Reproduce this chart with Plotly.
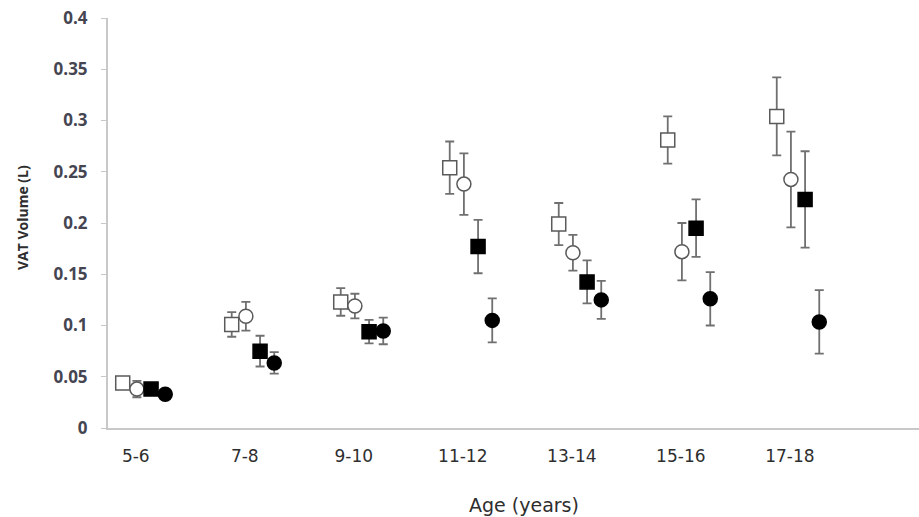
import plotly.graph_objects as go

age_groups = ["5-6", "7-8", "9-10", "11-12", "13-14", "15-16", "17-18"]

# series values (L) and error (±)
open_square = [0.044, 0.101, 0.123, 0.254, 0.199, 0.281, 0.304]
open_square_err = [0.004, 0.012, 0.0135, 0.0255, 0.0205, 0.023, 0.038]
open_circle = [0.038, 0.109, 0.119, 0.238, 0.171, 0.172, 0.2425]
open_circle_err = [0.008, 0.014, 0.012, 0.030, 0.0175, 0.028, 0.0467]
filled_square = [0.038, 0.075, 0.094, 0.177, 0.1425, 0.195, 0.223]
filled_square_err = [0.004, 0.015, 0.0115, 0.026, 0.021, 0.028, 0.047]
filled_circle = [0.033, 0.0635, 0.0947, 0.105, 0.125, 0.126, 0.1035]
filled_circle_err = [0.003, 0.0105, 0.013, 0.0215, 0.0185, 0.026, 0.031]

y_ticks = [0, 0.05, 0.1, 0.15, 0.2, 0.25, 0.3, 0.35, 0.4]
y_tick_labels = ["0", "0.05", "0.1", "0.15", "0.2", "0.25", "0.3", "0.35", "0.4"]

idx = list(range(len(age_groups)))
series = [
    (open_square, open_square_err, -0.195, "square", "white", "#5a5a5a"),
    (open_circle, open_circle_err, -0.065, "circle", "white", "#5a5a5a"),
    (filled_square, filled_square_err, 0.065, "square", "black", "black"),
    (filled_circle, filled_circle_err, 0.195, "circle", "black", "black"),
]

fig = go.Figure()
for vals, errs, off, sym, fill, line in series:
    fig.add_trace(go.Scatter(
        x=[i + off for i in idx], y=vals, mode="markers",
        marker=dict(symbol=sym, size=14, color=fill, line=dict(color=line, width=1.5)),
        error_y=dict(type="data", array=errs, visible=True, color="#707070", thickness=1.8, width=4.5),
        showlegend=False,
    ))

fig.update_layout(
    width=919, height=517,
    margin=dict(l=108, r=0, t=18, b=89),
    plot_bgcolor="white", paper_bgcolor="white",
    xaxis=dict(
        range=[-0.33, 7.11], tickvals=[i - 0.075 for i in idx], ticktext=age_groups,
        showgrid=False, zeroline=False, showline=True, linecolor="#c8c8c8", linewidth=2,
        ticks="", ticklabelstandoff=12,
        tickfont=dict(family="DejaVu Sans", size=17, color="#2e2e2e"),
    ),
    yaxis=dict(
        range=[0, 0.4], tickvals=y_ticks, ticktext=y_tick_labels,
        showgrid=False, zeroline=False, showline=True, linecolor="#c8c8c8", linewidth=2,
        ticks="outside", ticklen=5, tickcolor="#c8c8c8", tickwidth=1, ticklabelstandoff=10,
        tickfont=dict(family="Open Sans", size=17, color="#454552", weight="bold"),
    ),
    annotations=[
        dict(text="Age (years)", xref="paper", yref="paper", x=0.513, y=-0.188,
             showarrow=False, xanchor="center", yanchor="middle",
             font=dict(family="DejaVu Sans", size=19, color="#2e2e2e")),
        dict(text="<b>VAT Volume (L)</b>", xref="paper", yref="paper", x=-0.106, y=0.512,
             showarrow=False, xanchor="center", yanchor="middle", textangle=-90,
             font=dict(family="Open Sans", size=14, color="#2e2e2e")),
    ],
)

fig.write_html("out.html", config={"displayModeBar": False},
               post_script="document.body.style.margin='0px';")
